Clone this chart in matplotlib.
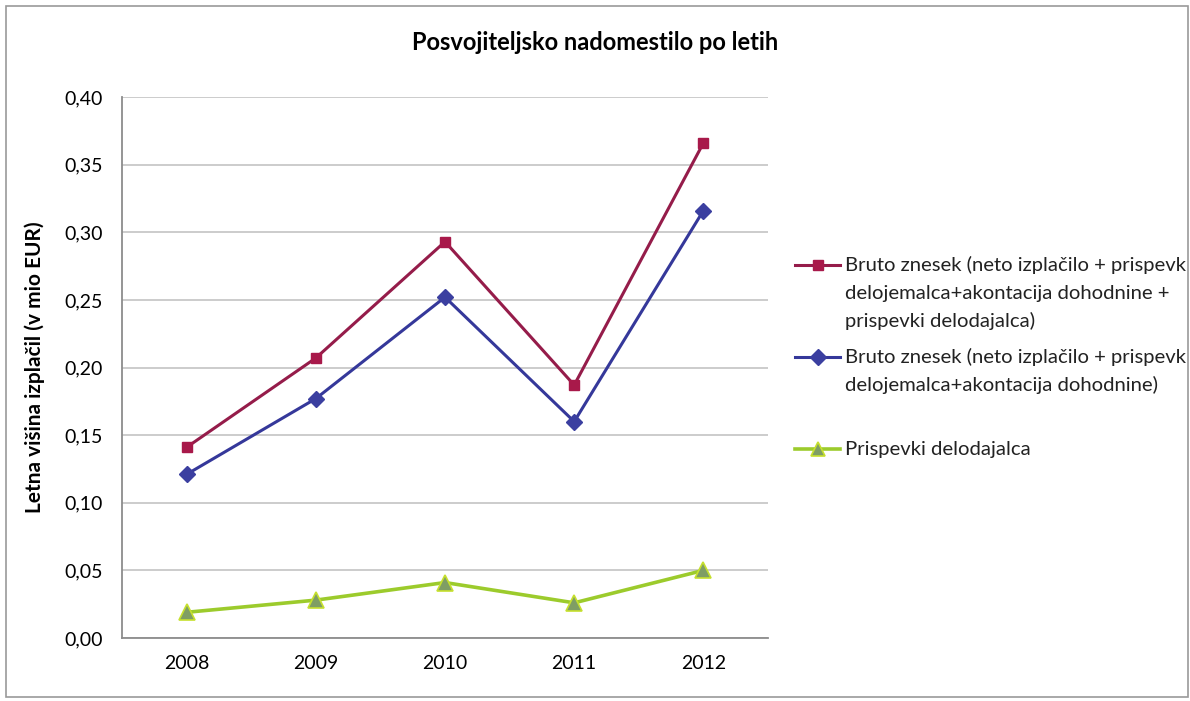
import matplotlib
matplotlib.use("Agg")
import matplotlib.pyplot as plt
from matplotlib.patches import Rectangle
from matplotlib.lines import Line2D

years = ["2008", "2009", "2010", "2011", "2012"]
bruto_total = [0.141, 0.207, 0.293, 0.187, 0.366]
bruto_neto = [0.121, 0.177, 0.252, 0.160, 0.316]
prispevki = [0.019, 0.028, 0.041, 0.026, 0.050]

label_total = ["Bruto znesek (neto izplačilo + prispevk",
               "delojemalca+akontacija dohodnine +",
               "prispevki delodajalca)"]
label_neto = ["Bruto znesek (neto izplačilo + prispevk",
              "delojemalca+akontacija dohodnine)"]
label_pris = ["Prispevki delodajalca"]
yticks = [0.0, 0.05, 0.10, 0.15, 0.20, 0.25, 0.30, 0.35, 0.40]

plt.rcParams['font.family'] = ['Lato', 'DejaVu Sans']

W, H = 1190, 701
fig = plt.figure(figsize=(W / 100, H / 100), dpi=100)
ax = fig.add_axes([122 / W, 1 - 638 / H, (768 - 122) / W, (638 - 97) / H])

x = list(range(len(years)))
styles = [
    dict(color='#951C4A', lw=2.2, marker='s', ms=6.5, mfc='#A8194A', mec='#A8194A'),
    dict(color='#35389A', lw=2.2, marker='D', ms=8, mfc='#3B3FA0', mec='#3B3FA0'),
    dict(color='#9CCB2C', lw=2.6, marker='^', ms=11, mfc='#7F9E64', mec='#C6E02E', mew=1.2),
]
series = [bruto_total, bruto_neto, prispevki]
for vals, st in zip(series, styles):
    ax.plot(x, vals, **st)

ax.set_xlim(-0.5, 4.5)
ax.set_ylim(0, 0.40)
ax.set_xticks(x)
ax.set_xticklabels(years, fontsize=14)
ax.set_yticks(yticks)
ax.set_yticklabels([f"{v:.2f}".replace('.', ',') for v in yticks], fontsize=14)
ax.tick_params(axis='x', length=0, pad=12)
ax.tick_params(axis='y', length=0, pad=14)
ax.grid(axis='y', color='#C8C8C8', lw=1.3)
ax.set_axisbelow(True)
for s in ['top', 'right']:
    ax.spines[s].set_visible(False)
for s in ['left', 'bottom']:
    ax.spines[s].set_color('#8C8C8C')
    ax.spines[s].set_linewidth(1.3)

ax.set_ylabel("Letna višina izplačil (v mio EUR)", fontsize=15, fontweight='bold', labelpad=14)
fig.text(0.5, 1 - 42 / H, "Posvojiteljsko nadomestilo po letih", ha='center', va='center',
         fontsize=17, fontweight='bold')

# manual legend
labels = [label_total, label_neto, label_pris]
first_line_y = [265, 357, 449]
line_step = 28
for lab, y0, st in zip(labels, first_line_y, styles):
    yf = 1 - y0 / H
    ms = 10 if st['marker'] == '^' else st['ms']
    fig.add_artist(Line2D([795 / W, 840 / W], [yf, yf], transform=fig.transFigure,
                          color=st['color'], lw=st['lw']))
    fig.add_artist(Line2D([817.5 / W], [yf], transform=fig.transFigure, linestyle='none',
                          marker=st['marker'], ms=ms, mfc=st['mfc'], mec=st['mec'],
                          mew=st.get('mew', 1)))
    for i, line in enumerate(lab):
        fig.text(845 / W, 1 - (y0 + i * line_step) / H, line, ha='left', va='center',
                 fontsize=14.6, color='#222222')

fig.patches.append(Rectangle((0.005, 0.006), 0.993, 0.986, transform=fig.transFigure,
                             fill=False, edgecolor='#9A9A9A', lw=1.2))

fig.savefig("out.png", dpi=100)
